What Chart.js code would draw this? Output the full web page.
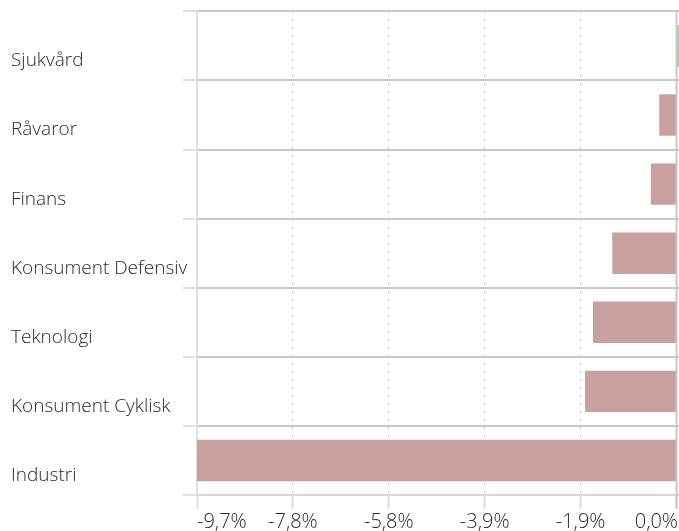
<!DOCTYPE html>
<html>
<head>
<meta charset="utf-8">
<script src="https://cdn.jsdelivr.net/npm/chart.js@4/dist/chart.umd.min.js"></script>
<style>
  html, body { margin: 0; padding: 0; background: #ffffff; }
  #wrap { width: 679px; height: 531px; position: relative; }
</style>
</head>
<body>
<div id="wrap"><canvas id="c" width="679" height="531"></canvas></div>
<script>
const categories = ["Sjukvård", "Råvaror", "Finans", "Konsument Defensiv", "Teknologi", "Konsument Cyklisk", "Industri"];
const values = [0.05, -0.35, -0.52, -1.30, -1.69, -1.85, -9.7];
const tickValues = [-9.7, -7.76, -5.82, -3.88, -1.94, 0];
const tickLabels = ["-9,7%", "-7,8%", "-5,8%", "-3,9%", "-1,9%", "0,0%"];

const POS = "#a9cbb0";
const NEG = "#c9a0a0";
const FONT = "'Open Sans', 'DejaVu Sans', sans-serif";

const xLabelsPlugin = {
  id: "xLabels",
  afterDraw(chart) {
    const ctx = chart.ctx;
    const xs = chart.scales.x;
    ctx.save();
    // solid zero line
    const z = xs.getPixelForValue(0);
    ctx.strokeStyle = "#c8c8c8";
    ctx.lineWidth = 2;
    ctx.beginPath();
    ctx.moveTo(z, chart.chartArea.top - 1);
    ctx.lineTo(z, chart.chartArea.bottom + 14);
    ctx.stroke();
    // tick labels
    ctx.fillStyle = "#2a2a2a";
    ctx.font = "300 20px " + FONT;
    ctx.textBaseline = "alphabetic";
    tickValues.forEach((v, i) => {
      const px = xs.getPixelForValue(v);
      if (i === 0) ctx.textAlign = "left";
      else if (i === tickValues.length - 1) ctx.textAlign = "right";
      else ctx.textAlign = "center";
      const tx = i === tickValues.length - 1 ? chart.width - 1 : px;
      ctx.fillText(tickLabels[i], tx, 528);
    });
    ctx.restore();
  }
};

new Chart(document.getElementById("c"), {
  type: "bar",
  data: {
    labels: categories,
    datasets: [{
      data: values,
      backgroundColor: values.map(v => v >= 0 ? POS : NEG),
      borderWidth: 0,
      barPercentage: 0.6,
      categoryPercentage: 1.0,
      clip: false
    }]
  },
  options: {
    indexAxis: "y",
    responsive: false,
    animation: false,
    devicePixelRatio: 1,
    layout: { padding: { left: 11, top: 10, right: 0, bottom: 0 } },
    plugins: { legend: { display: false }, tooltip: { enabled: false } },
    scales: {
      x: {
        type: "linear",
        min: -9.7,
        max: 0.05,
        afterBuildTicks(scale) { scale.ticks = tickValues.map(v => ({ value: v })); },
        afterFit(scale) { scale.height = 36; },
        ticks: { display: false },
        grid: {
          color: "#bdbdbd",
          lineWidth: 1,
          tickLength: 14,
          tickColor: "#dedede",
          tickWidth: 2
        },
        border: { display: true, color: "#d6d6d6", width: 2, dash: [1.5, 6.5] }
      },
      y: {
        type: "category",
        afterFit(scale) { scale.width = 186; },
        ticks: {
          crossAlign: "far",
          labelOffset: 15,
          padding: 0,
          color: "#2a2a2a",
          font: { family: FONT, size: 19, weight: 300 }
        },
        grid: {
          offset: true,
          color: "#c8c8c8",
          lineWidth: 2,
          tickLength: 14,
          tickColor: "#e0e0e0",
          tickWidth: 2
        },
        border: { display: true, color: "#e0e0e0", width: 2 }
      }
    }
  },
  plugins: [xLabelsPlugin]
});
</script>
</body>
</html>
